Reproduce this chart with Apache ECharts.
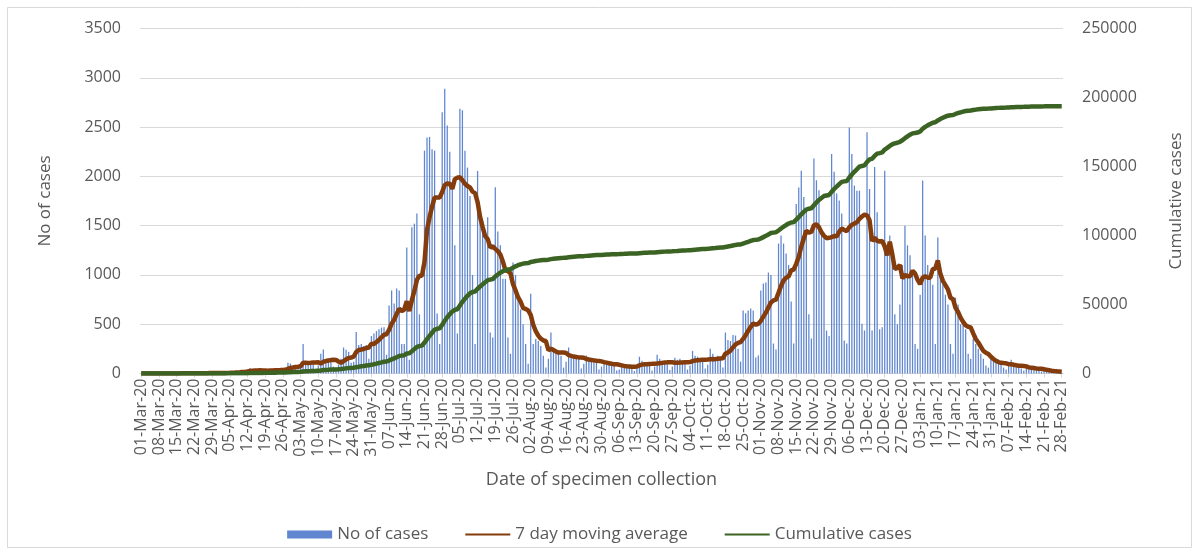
<!DOCTYPE html>
<html><head><meta charset="utf-8">
<script src="https://cdn.jsdelivr.net/npm/echarts@6/dist/echarts.min.js"></script>
<style>html,body{margin:0;padding:0;background:#fff}#c{width:1199px;height:554px}</style>
</head><body><div id="c"></div>
<script>
// ---- data ----
const startDate = '2020-03-01';
const monthNames = ['Jan','Feb','Mar','Apr','May','Jun','Jul','Aug','Sep','Oct','Nov','Dec'];
const leftTicks = {min: 0, max: 3500, step: 500};
const rightTicks = {min: 0, max: 250000, step: 50000};
const seriesNames = ['No of cases', '7 day moving average', 'Cumulative cases'];
// daily cases by week (Sun..Sat), from 01-Mar-20 to 28-Feb-21
const dailyCases = [
  0,0,0,0,0,1,0,
  0,0,1,0,1,2,1,
  1,2,3,2,3,4,2,
  2,4,3,5,4,6,3,
  3,6,8,5,9,7,4,
  6,12,20,18,25,30,15,
  20,55,35,30,28,40,12,
  18,40,45,38,42,35,22,
  30,55,110,100,70,75,40,
  60,300,110,90,85,95,40,
  80,200,243,140,120,130,70,
  60,90,150,264,240,220,110,
  120,420,290,300,280,290,150,
  380,405,430,450,466,470,190,
  690,842,710,862,842,300,300,
  1278,140,1484,1520,1622,600,300,
  2261,2393,2400,2275,2261,608,300,
  2650,2890,2515,2250,1900,1300,405,
  2687,2670,2261,2089,1800,1000,300,
  2055,1600,1550,1450,1584,416,365,
  1890,1440,1300,960,960,365,200,
  1126,1000,808,650,500,300,100,
  808,300,350,330,280,180,60,
  150,416,250,230,200,180,60,
  120,264,200,180,170,150,50,
  100,183,160,150,140,120,40,
  70,130,120,110,100,90,30,
  40,90,80,85,90,70,25,
  60,170,130,110,100,85,30,
  70,190,150,130,120,100,35,
  70,160,140,150,130,110,40,
  80,230,180,170,150,120,50,
  90,250,200,160,180,140,60,
  416,340,330,390,385,250,120,
  639,610,640,659,639,162,183,
  842,913,923,1024,1000,304,243,
  1318,1399,1318,1217,1100,730,304,
  1720,1886,2058,1791,1650,600,355,
  2180,1960,1858,1420,1400,436,380,
  2227,2048,1825,1754,1622,335,304,
  2495,2228,1907,1855,1855,505,436,
  2448,1872,436,2095,1636,450,470,
  2058,1250,1400,1200,600,500,700,
  1100,1500,1300,1200,1000,300,250,
  800,1957,1400,1100,1000,900,300,
  1379,1000,900,800,700,300,200,
  770,700,500,500,450,200,150,
  350,300,250,200,150,80,60,
  150,140,120,110,100,60,40,
  90,140,80,75,70,50,30,
  60,70,55,50,45,35,20,
  25,30,25,20,18,15,10,
  8
];

// ---- derived ----
const categories = [];
{
  const d0 = new Date(startDate + 'T00:00:00Z');
  for (let i = 0; i < dailyCases.length; i++) {
    const d = new Date(d0.getTime() + i * 86400000);
    categories.push(String(d.getUTCDate()).padStart(2,'0') + '-' + monthNames[d.getUTCMonth()] + '-' + String(d.getUTCFullYear()).slice(2));
  }
}
const movingAvg = dailyCases.map((v, i) => {
  const s = Math.max(0, i - 6);
  let sum = 0;
  for (let j = s; j <= i; j++) sum += dailyCases[j];
  return +(sum / (i - s + 1)).toFixed(1);
});
const cumulative = [];
dailyCases.reduce((acc, v) => { acc += v; cumulative.push(acc); return acc; }, 0);

const FONT = 'Open Sans';
const TXT = '#595959';
const chart = echarts.init(document.getElementById('c'), null, {renderer: 'canvas'});
chart.setOption({
  animation: false,
  backgroundColor: '#fff',
  textStyle: {fontFamily: FONT},
  graphic: [{
    type: 'rect', shape: {x: 7.5, y: 7.5, width: 1184, height: 540},
    style: {fill: 'none', stroke: '#d9d9d9', lineWidth: 1}, silent: true, z: -10
  }],
  grid: {left: 140, right: 136, top: 28.5, bottom: 180.5, containLabel: false},
  legend: {
    data: [
      {name: seriesNames[0], icon: 'rect'},
      {name: seriesNames[1], itemStyle: {opacity: 0}},
      {name: seriesNames[2], itemStyle: {opacity: 0}}
    ],
    left: 'center', top: 521, itemWidth: 45, itemHeight: 8, itemGap: 36,
    textStyle: {fontFamily: FONT, fontSize: 17, color: TXT}
  },
  xAxis: {
    type: 'category', data: categories, boundaryGap: true,
    axisLine: {lineStyle: {color: '#d9d9d9', width: 1}},
    axisTick: {show: true, interval: 6, alignWithLabel: true, length: 4, lineStyle: {color: '#d9d9d9'}},
    axisLabel: {interval: 6, rotate: 90, fontFamily: FONT, fontSize: 16, color: TXT, margin: 5},
    splitLine: {show: false},
    name: 'Date of specimen collection', nameLocation: 'middle', nameGap: 97,
    nameTextStyle: {fontFamily: FONT, fontSize: 18, color: TXT}
  },
  yAxis: [{
    type: 'value', min: leftTicks.min, max: leftTicks.max, interval: leftTicks.step,
    axisLine: {show: false}, axisTick: {show: false},
    splitLine: {lineStyle: {color: '#d9d9d9', width: 1}},
    axisLabel: {fontFamily: FONT, fontSize: 16, color: TXT, margin: 19, formatter: v => String(v)},
    name: 'No of cases', nameLocation: 'middle', nameGap: 86, nameRotate: 90,
    nameTextStyle: {fontFamily: FONT, fontSize: 17, color: TXT}
  }, {
    type: 'value', position: 'right', min: rightTicks.min, max: rightTicks.max, interval: rightTicks.step,
    axisLine: {show: false}, axisTick: {show: false}, splitLine: {show: false},
    axisLabel: {fontFamily: FONT, fontSize: 16, color: TXT, margin: 19, formatter: v => String(v)},
    name: 'Cumulative cases', nameLocation: 'middle', nameGap: 105, nameRotate: 90,
    nameTextStyle: {fontFamily: FONT, fontSize: 17, color: TXT}
  }],
  series: [{
    name: seriesNames[0], type: 'bar', yAxisIndex: 0, data: dailyCases,
    barWidth: '50%', itemStyle: {color: '#5f86cf'}, z: 1
  }, {
    name: seriesNames[1], type: 'line', yAxisIndex: 0, data: movingAvg,
    symbol: 'none', lineStyle: {color: '#843C0C', width: 4.5}, itemStyle: {color: '#843C0C'}, z: 3
  }, {
    name: seriesNames[2], type: 'line', yAxisIndex: 1, data: cumulative,
    symbol: 'none', lineStyle: {color: '#3B6323', width: 4.5}, itemStyle: {color: '#3B6323'}, z: 4
  }]
});
</script>
</body></html>
